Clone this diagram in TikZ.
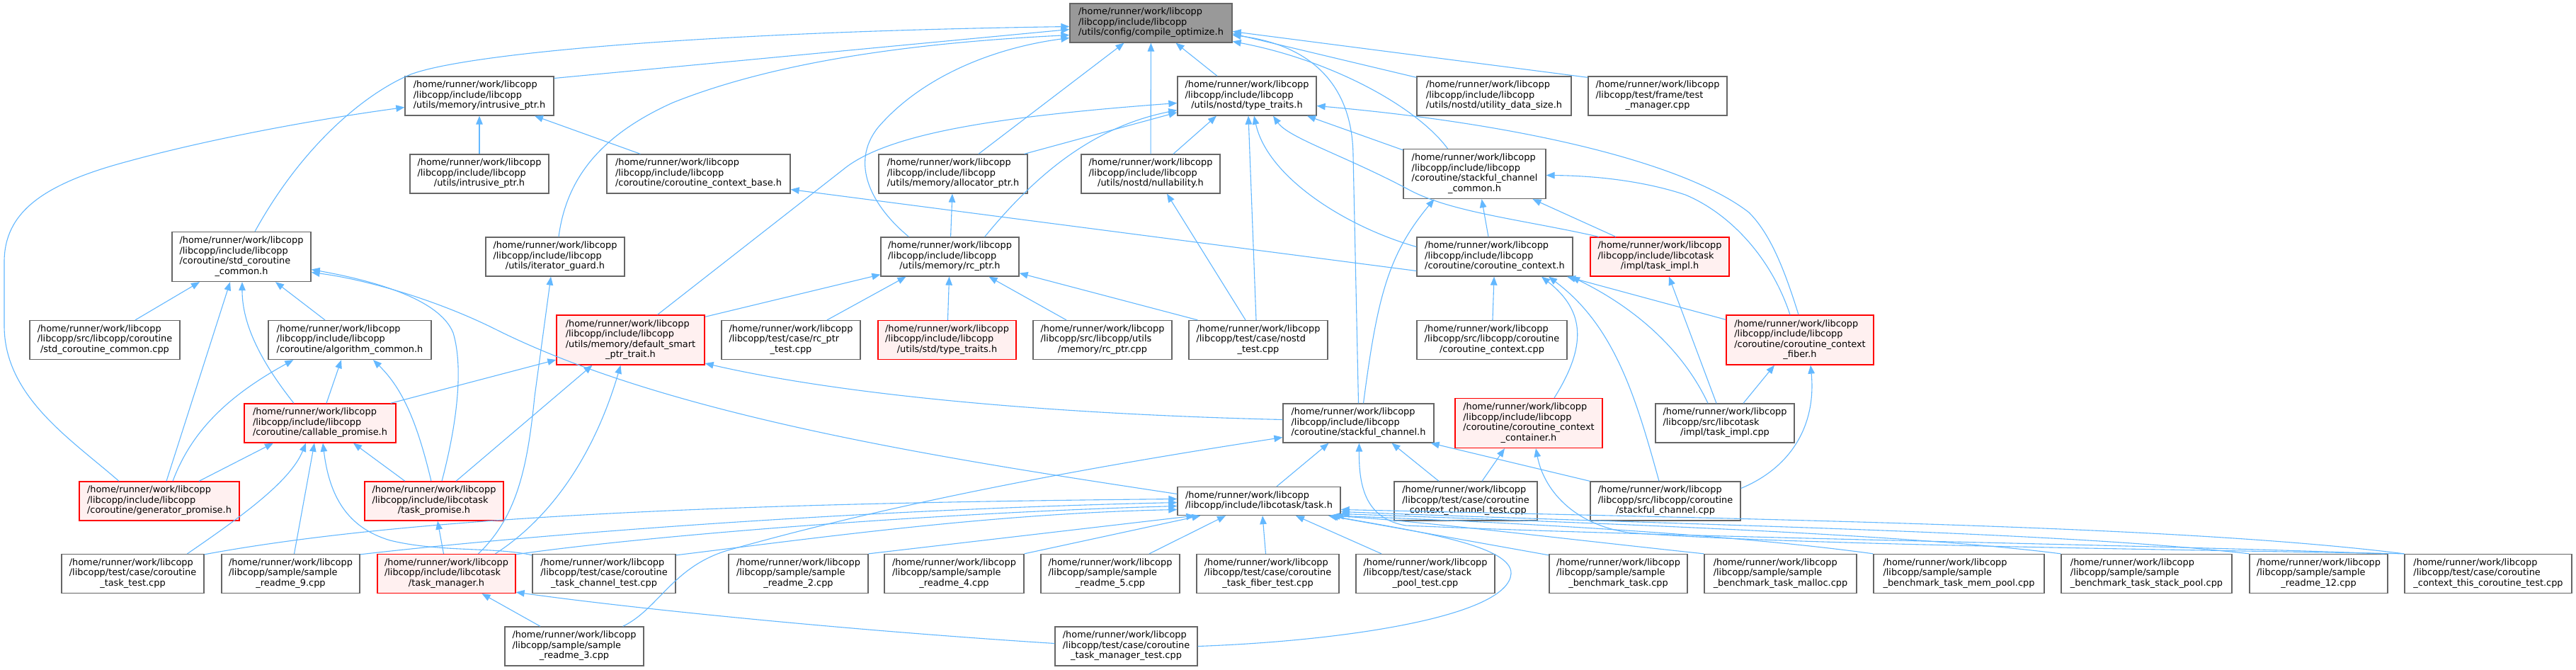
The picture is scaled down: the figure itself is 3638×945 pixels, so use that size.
\documentclass[tikz,border=0pt]{standalone}
\usepackage{fontspec}
\setmainfont{DejaVu Sans}
\usetikzlibrary{arrows.meta,calc}
\definecolor{edgeblue}{HTML}{63B8FF}
\definecolor{redfill}{HTML}{FFF0F0}
\definecolor{nodegray}{HTML}{666666}
\definecolor{rootfill}{HTML}{999999}
\newcommand{\HRW}{/home/runner/work/libcopp}
\newcommand{\LIL}{/libcopp/include/libcopp}
\newcommand{\LIT}{/libcopp/include/libcotask}
\newcommand{\lbtwo}[2]{\begin{tabular}{@{}l@{}}#1\\\multicolumn{1}{@{}c@{}}{#2}\end{tabular}}
\newcommand{\lbthree}[3]{\begin{tabular}{@{}l@{}}#1\\#2\\\multicolumn{1}{@{}c@{}}{#3}\end{tabular}}
\newcommand{\lbfour}[4]{\begin{tabular}{@{}l@{}}#1\\#2\\#3\\\multicolumn{1}{@{}c@{}}{#4}\end{tabular}}
\begin{document}
\begin{tikzpicture}[x=1pt,y=-1pt,
  nb/.style={draw=nodegray, line width=1.3pt, fill=white, inner sep=0pt, minimum height=55pt, font=\fontsize{12.9}{14.5}\selectfont},
  nr/.style={nb, draw=red, fill=redfill},
  ng/.style={nb, fill=rootfill},
  tall/.style={minimum height=70pt},
  lnk/.style={draw=edgeblue, line width=1.1pt, -{Triangle[length=12pt,width=9.5pt]}}]
\fill[white] (0,0) rectangle (3638,945);
\useasboundingbox (0,0) rectangle (3638,945);
% row 1
\node[ng, minimum width=229pt] (co) at (1625.5,32.5) {\lbthree{\HRW}{\LIL}{/utils/config/compile\_optimize.h}};
% row 2
\node[nb, minimum width=210pt] (ip) at (677,135.5) {\lbthree{\HRW}{\LIL}{/utils/memory/intrusive\_ptr.h}};
\node[nb, minimum width=196pt] (tt) at (1761,135.5) {\lbthree{\HRW}{\LIL}{/utils/nostd/type\_traits.h}};
\node[nb, minimum width=218pt] (uds) at (2110,135.5) {\lbthree{\HRW}{\LIL}{/utils/nostd/utility\_data\_size.h}};
\node[nb, minimum width=196pt] (tm) at (2341,135.5) {\lbthree{\HRW}{/libcopp/test/frame/test}{\_manager.cpp}};
% row 3
\node[nb, minimum width=196pt] (uip) at (677,245.5) {\lbthree{\HRW}{\LIL}{/utils/intrusive\_ptr.h}};
\node[nb, minimum width=259pt] (ccb) at (986.5,245.5) {\lbthree{\HRW}{\LIL}{/coroutine/coroutine\_context\_base.h}};
\node[nb, minimum width=210pt] (ap) at (1346,245.5) {\lbthree{\HRW}{\LIL}{/utils/memory/allocator\_ptr.h}};
\node[nb, minimum width=196pt] (nl) at (1625,245.5) {\lbthree{\HRW}{\LIL}{/utils/nostd/nullability.h}};
\node[nb, tall, minimum width=201pt] (scc) at (2082.5,245.5) {\lbfour{\HRW}{\LIL}{/coroutine/stackful\_channel}{\_common.h}};
% row 4
\node[nb, tall, minimum width=196pt] (stdc) at (341,362.5) {\lbfour{\HRW}{\LIL}{/coroutine/std\_coroutine}{\_common.h}};
\node[nb, minimum width=196pt] (ig) at (784,362.5) {\lbthree{\HRW}{\LIL}{/utils/iterator\_guard.h}};
\node[nb, minimum width=195pt] (rc) at (1341.5,362.5) {\lbthree{\HRW}{\LIL}{/utils/memory/rc\_ptr.h}};
\node[nb, minimum width=220pt] (cc) at (2111,362.5) {\lbthree{\HRW}{\LIL}{/coroutine/coroutine\_context.h}};
\node[nr, minimum width=196pt] (ti) at (2344,362.5) {\lbthree{\HRW}{\LIT}{/impl/task\_impl.h}};
% row 5
\node[nb, minimum width=212pt] (stdcpp) at (148,480) {\lbthree{\HRW}{/libcopp/src/libcopp/coroutine}{/std\_coroutine\_common.cpp}};
\node[nb, minimum width=230pt] (alg) at (494,480) {\lbthree{\HRW}{\LIL}{/coroutine/algorithm\_common.h}};
\node[nr, tall, minimum width=209pt] (dsp) at (890.5,480) {\lbfour{\HRW}{\LIL}{/utils/memory/default\_smart}{\_ptr\_trait.h}};
\node[nb, minimum width=196pt] (rct) at (1117,480) {\lbthree{\HRW}{/libcopp/test/case/rc\_ptr}{\_test.cpp}};
\node[nr, minimum width=195pt] (stt) at (1337.5,480) {\lbthree{\HRW}{\LIL}{/utils/std/type\_traits.h}};
\node[nb, minimum width=196pt] (rccpp) at (1557,480) {\lbthree{\HRW}{/libcopp/src/libcopp/utils}{/memory/rc\_ptr.cpp}};
\node[nb, minimum width=196pt] (nt) at (1777,480) {\lbthree{\HRW}{/libcopp/test/case/nostd}{\_test.cpp}};
\node[nb, minimum width=212pt] (cccpp) at (2107,480) {\lbthree{\HRW}{/libcopp/src/libcopp/coroutine}{/coroutine\_context.cpp}};
\node[nr, tall, minimum width=208pt] (ccf) at (2542,480) {\lbfour{\HRW}{\LIL}{/coroutine/coroutine\_context}{\_fiber.h}};
% row 6
\node[nr, minimum width=214pt] (cp) at (452,597.5) {\lbthree{\HRW}{\LIL}{/coroutine/callable\_promise.h}};
\node[nb, minimum width=213pt] (sch) at (1918.5,597.5) {\lbthree{\HRW}{\LIL}{/coroutine/stackful\_channel.h}};
\node[nr, tall, minimum width=208pt] (ccc) at (2159,597.5) {\lbfour{\HRW}{\LIL}{/coroutine/coroutine\_context}{\_container.h}};
\node[nb, minimum width=196pt] (tic) at (2436,597.5) {\lbthree{\HRW}{/libcopp/src/libcotask}{/impl/task\_impl.cpp}};
% row 7
\node[nr, minimum width=226pt] (gp) at (225,707.5) {\lbthree{\HRW}{\LIL}{/coroutine/generator\_promise.h}};
\node[nr, minimum width=196pt] (tp) at (613,707.5) {\lbthree{\HRW}{\LIT}{/task\_promise.h}};
\node[nb, minimum width=230pt, minimum height=40pt] (task) at (1778,707.5) {\lbtwo{\HRW}{/libcopp/include/libcotask/task.h}};
\node[nb, minimum width=202pt] (cct) at (2070,707.5) {\lbthree{\HRW}{/libcopp/test/case/coroutine}{\_context\_channel\_test.cpp}};
\node[nb, minimum width=212pt] (scpp) at (2352,707.5) {\lbthree{\HRW}{/libcopp/src/libcopp/coroutine}{/stackful\_channel.cpp}};
% row 8
\node[nb, minimum width=201pt] (ctt) at (187.5,810) {\lbthree{\HRW}{/libcopp/test/case/coroutine}{\_task\_test.cpp}};
\node[nb, minimum width=195pt] (r9) at (410.5,810) {\lbthree{\HRW}{/libcopp/sample/sample}{\_readme\_9.cpp}};
\node[nr, minimum width=195pt] (tmh) at (630.5,810) {\lbthree{\HRW}{\LIT}{/task\_manager.h}};
\node[nb, minimum width=202pt] (ctct) at (853,810) {\lbthree{\HRW}{/libcopp/test/case/coroutine}{\_task\_channel\_test.cpp}};
\node[nb, minimum width=197pt] (r2) at (1127.5,810) {\lbthree{\HRW}{/libcopp/sample/sample}{\_readme\_2.cpp}};
\node[nb, minimum width=197pt] (r4) at (1347.5,810) {\lbthree{\HRW}{/libcopp/sample/sample}{\_readme\_4.cpp}};
\node[nb, minimum width=196pt] (r5) at (1568,810) {\lbthree{\HRW}{/libcopp/sample/sample}{\_readme\_5.cpp}};
\node[nb, minimum width=201pt] (ctft) at (1790.5,810) {\lbthree{\HRW}{/libcopp/test/case/coroutine}{\_task\_fiber\_test.cpp}};
\node[nb, minimum width=196pt] (spt) at (2013,810) {\lbthree{\HRW}{/libcopp/test/case/stack}{\_pool\_test.cpp}};
\node[nb, minimum width=195pt] (bt) at (2285.5,810) {\lbthree{\HRW}{/libcopp/sample/sample}{\_benchmark\_task.cpp}};
\node[nb, minimum width=215pt] (btm) at (2514.5,810) {\lbthree{\HRW}{/libcopp/sample/sample}{\_benchmark\_task\_malloc.cpp}};
\node[nb, minimum width=241pt] (btmp) at (2766.5,810) {\lbthree{\HRW}{/libcopp/sample/sample}{\_benchmark\_task\_mem\_pool.cpp}};
\node[nb, minimum width=241pt] (btsp) at (3031.5,810) {\lbthree{\HRW}{/libcopp/sample/sample}{\_benchmark\_task\_stack\_pool.cpp}};
\node[nb, minimum width=195pt] (r12) at (3274.5,810) {\lbthree{\HRW}{/libcopp/sample/sample}{\_readme\_12.cpp}};
\node[nb, minimum width=236pt] (ccttc) at (3514,810) {\lbthree{\HRW}{/libcopp/test/case/coroutine}{\_context\_this\_coroutine\_test.cpp}};
% row 9
\node[nb, minimum width=196pt] (r3) at (811,912.5) {\lbthree{\HRW}{/libcopp/sample/sample}{\_readme\_3.cpp}};
\node[nb, minimum width=201pt] (ctmt) at (1590.5,912.5) {\lbthree{\HRW}{/libcopp/test/case/coroutine}{\_task\_manager\_test.cpp}};

% ---- edges (child -> included file)
\draw[lnk] ($(ip.east)+(0,-25)$) -- ($(co.west)+(0,9)$);
\draw[lnk] ($(stdc.north)+(19,0)$) .. controls (430,200) and (520,130) .. (580,105) .. controls (660,75) and (1000,45) .. ($(co.west)+(0,5)$);
\draw[lnk] ($(ig.north)+(5,0)$) .. controls (800,250) and (850,190) .. (950,145) .. controls (1100,85) and (1300,60) .. ($(co.west)+(0,17)$);
\draw[lnk] ($(rc.north)+(-58,0)$) .. controls (1230,290) and (1200,230) .. (1240,180) .. controls (1300,110) and (1400,68) .. ($(co.west)+(0,21)$);
\draw[lnk] ($(ap.north)+(36,0)$) -- ($(co.south)+(-38,0)$);
\draw[lnk] (nl) -- (co);
\draw[lnk] ($(tt.north)+(-42,0)$) -- ($(co.south)+(35,0)$);
\draw[lnk] ($(uds.north west)+(0,2)$) -- ($(co.east)+(0,15)$);
\draw[lnk] ($(tm.north west)+(0,2)$) -- ($(co.east)+(0,12)$);
\draw[lnk] (sch.north) -- (1911,220) .. controls (1910,110) and (1840,62) .. ($(co.east)+(0,17)$);
\draw[lnk] ($(scc.north)+(-38,0)$) .. controls (2000,150) and (1880,85) .. ($(co.east)+(0,26)$);
\draw[lnk] (uip) -- (ip);
\draw[lnk] ($(ccb.north west)+(48,0)$) -- ($(ip.south)+(78,0)$);
\draw[lnk] ($(gp.north)+(-57,0)$) .. controls (100,620) and (6,560) .. (6,460) -- (6,370) .. controls (6,300) and (60,260) .. (180,228) .. controls (300,195) and (450,168) .. ($(ip.west)+(0,16)$);
\draw[lnk] ($(cc.west)+(0,20)$) -- ($(ccb.east)+(0,22)$);
\draw[lnk] ($(ap.north east)+(-5,0)$) -- ($(tt.south west)+(0,-5)$);
\draw[lnk] (rc) -- (ap);
\draw[lnk] ($(nl.north)+(32,0)$) -- ($(tt.south)+(-43,0)$);
\draw[lnk] ($(dsp.north)+(38,0)$) -- (1190,240) .. controls (1250,190) and (1400,165) .. ($(tt.west)+(0,10)$);
\draw[lnk] ($(rc.north east)+(-49,0)$) .. controls (1460,250) and (1540,180) .. ($(tt.west)+(0,20)$);
\draw[lnk] ($(nt.north)+(-3,0)$) -- ($(tt.south)+(2,0)$);
\draw[lnk] ($(nt.north)+(-18,0)$) -- ($(nl.south)+(23,0)$);
\draw[lnk] ($(cc.west)+(0,-14)$) .. controls (1900,320) and (1790,250) .. ($(tt.south)+(10,0)$);
\draw[lnk] ($(ti.north)+(-86,0)$) .. controls (2150,310) and (2050,300) .. (1990,268) .. controls (1900,220) and (1820,195) .. ($(tt.south)+(37,0)$);
\draw[lnk] ($(scc.north west)+(0,2)$) -- ($(tt.south)+(85,0)$);
\draw[lnk] ($(ccf.north)+(-2,0)$) .. controls (2520,380) and (2500,330) .. (2470,300) .. controls (2380,230) and (2150,175) .. ($(tt.east)+(0,14)$);
\draw[lnk] ($(ccf.north)+(-14,0)$) .. controls (2500,360) and (2440,300) .. (2380,275) .. controls (2320,255) and (2250,248) .. ($(scc.east)+(0,2)$);
\draw[lnk] ($(cc.north)+(-9,0)$) -- ($(scc.south)+(10,0)$);
\draw[lnk] ($(ti.north)+(-62,0)$) -- ($(scc.south)+(82,0)$);
\draw[lnk] ($(sch.north)+(7,0)$) .. controls (1945,420) and (1960,360) .. ($(scc.south)+(-57,0)$);
\draw[lnk] (cccpp) -- (cc);
\draw[lnk] ($(ccc.north)+(36,0)$) .. controls (2240,490) and (2240,440) .. ($(cc.south)+(66,0)$);
\draw[lnk] ($(scpp.north)+(-9,0)$) .. controls (2310,560) and (2280,460) .. ($(cc.south)+(76,0)$);
\draw[lnk] ($(tic.north)+(-24,0)$) .. controls (2370,480) and (2290,425) .. ($(cc.south)+(108,0)$);
\draw[lnk] ($(ccf.north west)+(0,7)$) -- ($(cc.south)+(102,0)$);
\draw[lnk] ($(tic.north)+(-12,0)$) -- ($(ti.south)+(13,0)$);
\draw[lnk] ($(tic.north)+(26,0)$) -- ($(ccf.south)+(-36,0)$);
\draw[lnk] ($(scpp.east)+(0,-18)$) .. controls (2530,660) and (2565,600) .. ($(ccf.south)+(15,0)$);
\draw[lnk] ($(stdcpp.north)+(43,0)$) -- ($(stdc.south)+(-59,0)$);
\draw[lnk] ($(alg.north)+(-35,0)$) -- ($(stdc.south)+(48,0)$);
\draw[lnk] ($(cp.north)+(-37,0)$) .. controls (360,500) and (342,450) .. ($(stdc.south)+(1,0)$);
\draw[lnk] ($(cp.north)+(9,0)$) -- ($(alg.south)+(-12,0)$);
\draw[lnk] ($(cp.north east)+(-8,0)$) -- ($(dsp.west)+(0,28)$);
\draw[lnk] ($(gp.north)+(10,0)$) -- ($(stdc.south)+(-16,0)$);
\draw[lnk] ($(gp.north)+(19,0)$) .. controls (270,610) and (320,560) .. ($(alg.south west)+(36,0)$);
\draw[lnk] ($(gp.north)+(56,0)$) -- ($(cp.south)+(-66,0)$);
\draw[lnk] ($(tp.north)+(-41,0)$) -- ($(cp.south)+(47,0)$);
\draw[lnk] ($(tp.north)+(-4,0)$) .. controls (590,600) and (570,550) .. ($(alg.south)+(33,0)$);
\draw[lnk] ($(tp.north)+(11,0)$) .. controls (645,600) and (655,520) .. (640,470) .. controls (620,420) and (520,395) .. ($(stdc.east)+(0,18)$);
\draw[lnk] ($(tp.north)+(31,0)$) -- ($(dsp.south)+(-54,0)$);
\draw[lnk] ($(task.west)+(0,-10)$) .. controls (1350,650) and (950,590) .. (700,465) .. controls (620,425) and (520,395) .. ($(stdc.east)+(0,22)$);
\draw[lnk] ($(tmh.north)+(-4,0)$) -- ($(tp.south)+(5,0)$);
\draw[lnk] ($(tmh.north)+(45,0)$) .. controls (730,730) and (745,660) .. (755,560) -- ($(ig.south)+(-6,0)$);
\draw[lnk] ($(tmh.north)+(69,0)$) .. controls (780,730) and (840,640) .. ($(dsp.south)+(-14,0)$);
\draw[lnk] ($(tmh.north east)+(0,1)$) .. controls (900,758) and (1300,725) .. ($(task.west)+(0,7)$);
\draw[lnk] ($(ctt.north east)+(0,1)$) .. controls (600,725) and (1100,710) .. ($(task.west)+(0,-3)$);
\draw[lnk] ($(r9.north east)+(0,1)$) .. controls (750,755) and (1200,720) .. ($(task.west)+(0,2)$);
\draw[lnk] ($(ctct.north east)+(0,2)$) .. controls (1150,760) and (1400,725) .. ($(task.west)+(0,12)$);
\draw[lnk] ($(ctct.north west)+(0,2)$) .. controls (700,772) and (620,780) .. (551,763) .. controls (490,745) and (465,700) .. ($(cp.south)+(4,0)$);
\draw[lnk] ($(ctt.north)+(77,0)$) .. controls (340,730) and (410,680) .. ($(cp.south)+(-20,0)$);
\draw[lnk] ($(r9.north)+(5,0)$) -- ($(cp.south)+(-8,0)$);
\draw[lnk] ($(r3.north)+(-48,0)$) -- ($(tmh.south)+(50,0)$);
\draw[lnk] ($(r3.north east)+(-30,0)$) .. controls (930,860) and (950,800) .. (1028,777) .. controls (1300,700) and (1600,650) .. ($(sch.west)+(0,20)$);
\draw[lnk] ($(ctmt.west)+(0,-4)$) .. controls (1200,890) and (900,860) .. ($(tmh.south east)+(0,-2)$);
\draw[lnk] (ctmt.east) .. controls (1900,905) and (2130,870) .. (2134,810) .. controls (2136,770) and (2000,750) .. ($(task.south)+(100,0)$);
\draw[lnk] (r2.north east) -- ($(task.south west)+(25,0)$);
\draw[lnk] (r4.north east) -- ($(task.south west)+(33,0)$);
\draw[lnk] ($(r5.north)+(55,0)$) -- ($(task.south)+(-47,0)$);
\draw[lnk] ($(ctft.north)+(-3,0)$) -- ($(task.south)+(5,0)$);
\draw[lnk] ($(spt.north)+(-62,0)$) -- ($(task.south)+(52,0)$);
\draw[lnk] ($(bt.north west)+(0,2)$) -- ($(task.south)+(98,0)$);
\draw[lnk] (btm.north west) .. controls (2200,760) and (2000,735) .. ($(task.south)+(102,0)$);
\draw[lnk] (btmp.north west) .. controls (2450,755) and (2150,738) .. ($(task.south east)+(-8,0)$);
\draw[lnk] (btsp.north west) .. controls (2700,755) and (2300,740) .. ($(task.east)+(0,18)$);
\draw[lnk] (r12.north west) .. controls (2900,750) and (2400,742) .. ($(task.east)+(0,15)$);
\draw[lnk] (ccttc.north west) .. controls (3100,745) and (2600,735) .. ($(task.east)+(0,12)$);
\draw[lnk] ($(r12.north east)+(-5,0)$) .. controls (3000,768) and (2400,760) .. (1985,742) .. controls (1930,732) and (1919,690) .. ($(sch.south)+(1,0)$);
\draw[lnk] (ccttc.north west) .. controls (3000,775) and (2500,768) .. (2300,752) .. controls (2220,740) and (2180,690) .. ($(ccc.south)+(10,0)$);
\draw[lnk] ($(sch.west)+(0,-5)$) .. controls (1500,585) and (1200,560) .. ($(dsp.east)+(0,33)$);
\draw[lnk] ($(cct.north)+(-38,0)$) -- ($(sch.south)+(47,0)$);
\draw[lnk] ($(cct.north)+(23,0)$) -- ($(ccc.south)+(-34,0)$);
\draw[lnk] (scpp.north west) -- ($(sch.south east)+(-5,0)$);
\draw[lnk] ($(task.north)+(25,0)$) -- ($(sch.south)+(-42,0)$);
\draw[lnk] ($(dsp.north east)+(0,3)$) -- ($(rc.south west)+(0,-3)$);
\draw[lnk] ($(rct.north)+(51,0)$) -- ($(rc.south)+(-62,0)$);
\draw[lnk] (stt) -- (rc);
\draw[lnk] ($(rccpp.north)+(-51,0)$) -- ($(rc.south)+(55,0)$);
\draw[lnk] ($(nt.north west)+(13,0)$) -- ($(rc.south east)+(0,-5)$);
\end{tikzpicture}
\end{document}
